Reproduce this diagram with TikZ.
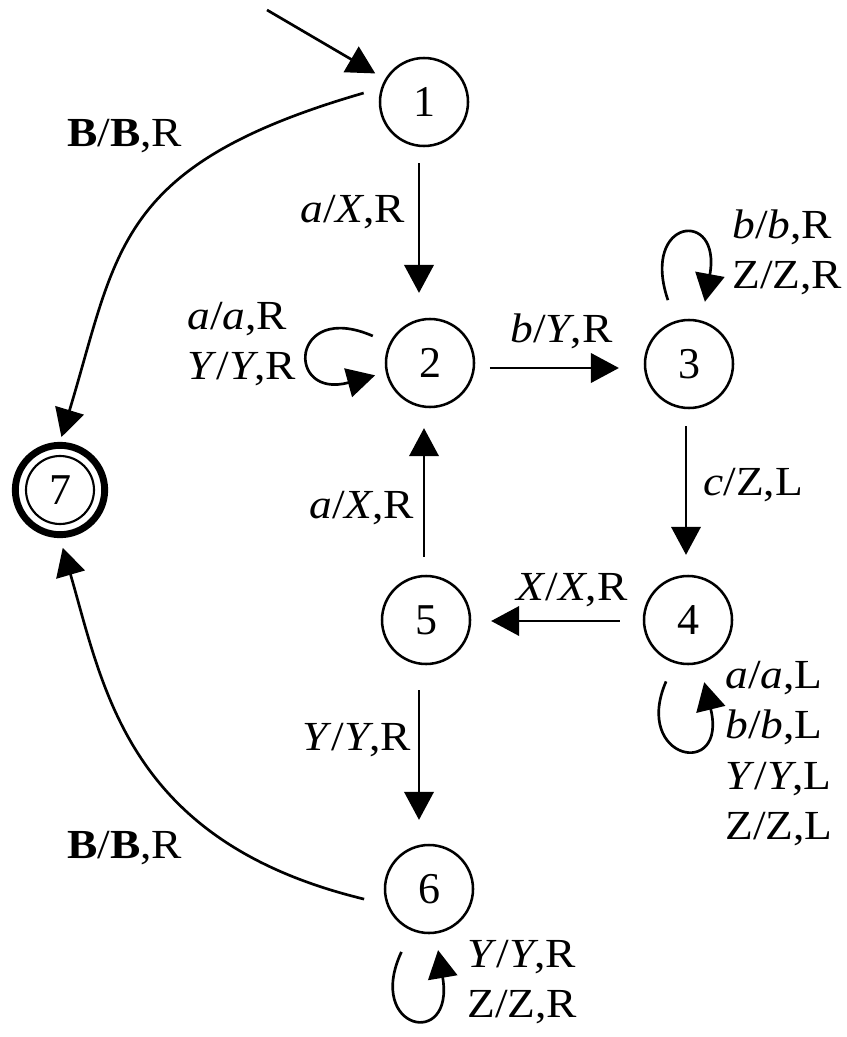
\documentclass[tikz,border=0pt]{standalone}
\usepackage{fontspec}
\setmainfont[FakeStretch=1.1]{Liberation Serif}
\newfontfamily\digfont{Liberation Serif}
\usetikzlibrary{arrows.meta,calc}
\tikzset{
  state/.style={circle, draw, line width=1.9pt, minimum size=66pt, inner sep=0pt,
    font=\digfont\fontsize{33}{36}\selectfont},
  final/.style={circle, draw, line width=5.2pt, minimum size=67pt, inner sep=0pt,
    font=\digfont\fontsize{33}{36}\selectfont},
  edge/.style={line width=2pt, -{Triangle[length=21pt,width=22pt]}},
  lab/.style={inner sep=0pt, font=\fontsize{31}{37.8}\selectfont},
}
\begin{document}
\begin{tikzpicture}[x=0.75pt,y=-0.75pt]
\fill[white] (0,0) rectangle (846,1037);
\useasboundingbox (0,0) rectangle (846,1037);

% states
\node[state] (s1) at (424,102) {1};
\node[state] (s2) at (430,363) {2};
\node[state] (s3) at (689,364) {3};
\node[state] (s4) at (688,620) {4};
\node[state] (s5) at (426,620) {5};
\node[state] (s6) at (429,889) {6};
\node[final] (s7) at (60,490) {7};
\draw[line width=1.6pt] (s7.center) circle[radius=25.5pt];

% initial arrow
\coordinate (init) at (267,10);
\draw[edge, shorten >=8.4pt] (init) -- (s1);

% straight transitions
\draw[edge, shorten <=11.9pt, shorten >=18.6pt] ($(s1.south)+(-5,0)$) -- ($(s2.north)+(-11,0)$);
\draw[edge, shorten <=11pt, shorten >=18.6pt] ($(s2.east)+(0,5)$) -- ($(s3.west)+(0,4)$);
\draw[edge, shorten <=12.6pt, shorten >=14.9pt] ($(s3.south)+(-3,0)$) -- ($(s4.north)+(-2,0)$);
\draw[edge, shorten <=17.1pt, shorten >=14.9pt] ($(s4.west)+(0,1)$) -- ($(s5.east)+(0,1)$);
\draw[edge, shorten <=13.4pt, shorten >=14.9pt] ($(s5.north)+(-2,0)$) -- ($(s2.south)+(-6,0)$);
\draw[edge, shorten <=18.6pt, shorten >=17.9pt] ($(s5.south)+(-7,0)$) -- ($(s6.north)+(-10,0)$);

% curved transitions to the final state
\draw[edge, shorten <=13.5pt, shorten >=3.75pt] (s1.162) .. controls (115,165) and (118,250) .. (s7.north);
\draw[edge, shorten <=17.25pt, shorten >=7.5pt] (s6.200) .. controls (128,842) and (104,690) .. (s7.south);

% loops
\draw[edge, shorten <=13.5pt, shorten >=8.25pt] (s2.154) .. controls (290,300) and (285,400) .. (s2.192);
\draw[edge, shorten <=16.5pt, shorten >=14.25pt] (s3.108) .. controls (640,218) and (722,208) .. (s3.74);
\draw[edge, shorten <=15pt, shorten >=14.25pt] (s4.252) .. controls (632,760) and (728,780) .. (s4.285);
\draw[edge, shorten <=17.6pt, shorten >=12.4pt] (s6.247) .. controls (365,1030) and (455,1050) .. (s6.278);

% labels
\node[lab, anchor=base west] (l17a) at (67,147) {\textbf{B}/\textbf{B},R};
\node[lab, anchor=base west] (l12) at (300,223) {\textit{a}/\textit{X},R};
\node[lab, anchor=north west, align=left] (l22) at (187,295.7) {\rule{0pt}{25pt}\textit{a}/\textit{a},R\\\textit{Y}/\textit{Y},R};
\node[lab, anchor=base west] (l23) at (510,342) {\textit{b}/\textit{Y},R};
\node[lab, anchor=north west, align=left] (l33) at (732,204.7) {\rule{0pt}{25pt}\textit{b}/\textit{b},R\\Z/Z,R};
\node[lab, anchor=base west] (l34) at (703,495) {\textit{c}/Z,L};
\node[lab, anchor=base west] (l52) at (309,518) {\textit{a}/\textit{X},R};
\node[lab, anchor=base west] (l45) at (516,600) {\textit{X}/\textit{X},R};
\node[lab, anchor=north west, align=left] (l44) at (725,654.7) {\rule{0pt}{25pt}\textit{a}/\textit{a},L\\\textit{b}/\textit{b},L\\\textit{Y}/\textit{Y},L\\Z/Z,L};
\node[lab, anchor=base west] (l56) at (302,750) {\textit{Y}/\textit{Y},R};
\node[lab, anchor=base west] (l67) at (67,858) {\textbf{B}/\textbf{B},R};
\node[lab, anchor=north west, align=left] (l66) at (467,933.7) {\rule{0pt}{25pt}\textit{Y}/\textit{Y},R\\Z/Z,R};
\end{tikzpicture}
\end{document}
